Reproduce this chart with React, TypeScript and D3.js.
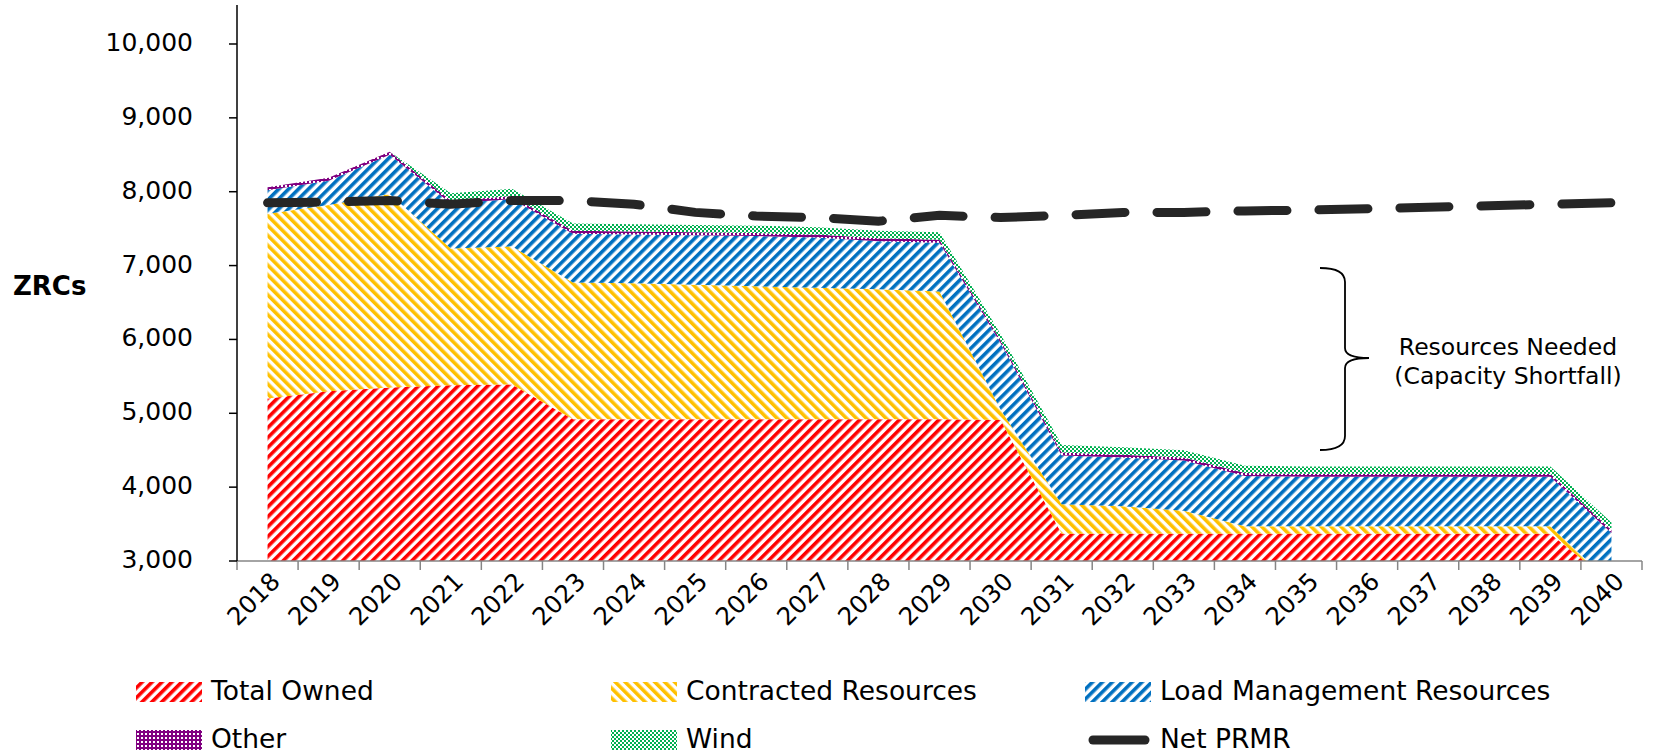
import React from 'react';
import * as d3 from 'd3';

const years = ['2018','2019','2020','2021','2022','2023','2024','2025','2026','2027','2028','2029','2030','2031','2032','2033','2034','2035','2036','2037','2038','2039','2040'];
const totalOwned = [5200,5300,5350,5380,5390,4920,4920,4920,4920,4920,4920,4920,4910,3370,3370,3370,3370,3370,3370,3370,3370,3370,2700];
const contracted = [2500,2520,2620,1850,1870,1850,1840,1820,1800,1780,1760,1730,140,400,370,310,100,100,100,100,100,100,0];
const loadManagement = [320,330,530,610,640,660,660,670,680,680,650,660,900,660,660,680,680,670,670,670,670,670,680];
const other = [40,40,40,40,40,40,40,40,40,40,40,40,40,40,40,40,40,40,40,40,40,40,40];
const wind = [0,0,0,100,100,100,100,100,100,100,100,100,80,100,100,100,100,100,100,100,100,100,100];
const netPRMR = [7850,7860,7880,7830,7880,7880,7830,7720,7670,7650,7600,7680,7650,7680,7720,7720,7740,7750,7770,7790,7810,7830,7850];
const yTicks = [3000,4000,5000,6000,7000,8000,9000,10000];

const seriesKeys = ['owned','contracted','load','other','wind'];
const seriesNames = ['Total Owned','Contracted Resources','Load Management Resources','Other','Wind'];
const patternIds = ['pOwned','pContracted','pLoad','pOther','pWind'];

const W = 1680, H = 753;
const left = 237, right = 1642, top = 5, bottom = 561;
const FONT = '"DejaVu Sans", Verdana, sans-serif';

export default function App() {
  const x = d3.scalePoint<string>().domain(years).range([left, right]).padding(0.5);
  const y = d3.scaleLinear().domain([3000, 10528]).range([bottom, top]);
  const step = x.step();

  const rows = years.map((yr, i) => ({
    year: yr,
    owned: totalOwned[i],
    contracted: contracted[i],
    load: loadManagement[i],
    other: other[i],
    wind: wind[i],
  }));
  const stacked = d3.stack<any>().keys(seriesKeys)(rows);
  const area = d3.area<any>()
    .x((d) => x(d.data.year) as number)
    .y0((d) => y(d[0]))
    .y1((d) => y(d[1]));
  const line = d3.line<number>()
    .x((_, i) => x(years[i]) as number)
    .y((d) => y(d));

  const boundaries = d3.range(years.length + 1).map((i) => left + i * step);

  const bx0 = 1320, bxm = 1345, bxt = 1369, bTop = 268, bBot = 450, bMid = 358;
  const brace = `M${bx0},${bTop} Q${bxm},${bTop} ${bxm},${bTop + 14} L${bxm},${bMid - 10} Q${bxm},${bMid} ${bxt},${bMid} Q${bxm},${bMid} ${bxm},${bMid + 10} L${bxm},${bBot - 14} Q${bxm},${bBot} ${bx0},${bBot}`;

  const legendItems = [
    { idx: 0, col: 0, row: 0 },
    { idx: 1, col: 1, row: 0 },
    { idx: 2, col: 2, row: 0 },
    { idx: 3, col: 0, row: 1 },
    { idx: 4, col: 1, row: 1 },
  ];
  const colX = [136, 611, 1085];
  const rowY = [692, 740];

  return (
    <svg width={W} height={H} style={{ position: 'absolute', left: 0, top: 0, background: '#fff' }} fontFamily={FONT}>
      <defs>
        <pattern id="pOwned" patternUnits="userSpaceOnUse" width="7" height="7" patternTransform="rotate(45)">
          <rect width="7" height="7" fill="#fff" />
          <rect width="3.6" height="7" fill="#FF0000" />
        </pattern>
        <pattern id="pContracted" patternUnits="userSpaceOnUse" width="7" height="7" patternTransform="rotate(-45)">
          <rect width="7" height="7" fill="#fff" />
          <rect width="3.6" height="7" fill="#FFC000" />
        </pattern>
        <pattern id="pLoad" patternUnits="userSpaceOnUse" width="7" height="7" patternTransform="rotate(45)">
          <rect width="7" height="7" fill="#fff" />
          <rect width="3.6" height="7" fill="#0070C0" />
        </pattern>
        <pattern id="pOther" patternUnits="userSpaceOnUse" width="4" height="4">
          <rect width="4" height="4" fill="#800080" />
          <rect x="1" y="1" width="2" height="2" fill="#fff" />
        </pattern>
        <pattern id="pWind" patternUnits="userSpaceOnUse" width="4" height="4">
          <rect width="4" height="4" fill="#fff" />
          <rect width="2" height="2" fill="#00B050" />
          <rect x="2" y="2" width="2" height="2" fill="#00B050" />
        </pattern>
        <clipPath id="plotClip">
          <rect x={left} y={top} width={right - left} height={bottom - top} />
        </clipPath>
      </defs>

      <g clipPath="url(#plotClip)">
        {stacked.map((s, i) => (
          <path key={s.key} d={area(s as any) || ''} fill={`url(#${patternIds[i]})`} />
        ))}
        <path d={line(netPRMR) || ''} fill="none" stroke="#262626" strokeWidth={9} strokeLinecap="round" strokeDasharray="49 32" />
      </g>

      <line x1={left} x2={right} y1={bottom} y2={bottom} stroke="#868686" strokeWidth={1.5} />
      {boundaries.map((bx, i) => (
        <line key={i} x1={bx} x2={bx} y1={bottom} y2={bottom + 9} stroke="#868686" strokeWidth={1.5} />
      ))}
      {years.map((yr) => (
        <text key={yr} transform={`translate(${(x(yr) as number) + 9},${bottom + 17}) rotate(-45)`} textAnchor="end" dominantBaseline="middle" fontSize={24.5} fill="#000">
          {yr}
        </text>
      ))}

      <line x1={left} x2={left} y1={top} y2={bottom} stroke="#000" strokeWidth={1.5} />
      {yTicks.map((t) => (
        <g key={t}>
          <line x1={left - 8} x2={left} y1={y(t)} y2={y(t)} stroke="#000" strokeWidth={1.5} />
          <text x={193} y={y(t)} textAnchor="end" dominantBaseline="middle" fontSize={25} fill="#000">
            {d3.format(',')(t)}
          </text>
        </g>
      ))}
      <text x={13} y={287} dominantBaseline="middle" fontSize={26} fontWeight="bold" fill="#000">ZRCs</text>

      <path d={brace} fill="none" stroke="#000" strokeWidth={1.8} />
      <text x={1508} y={348} textAnchor="middle" dominantBaseline="middle" fontSize={23.5} fill="#000">Resources Needed</text>
      <text x={1508} y={377} textAnchor="middle" dominantBaseline="middle" fontSize={23.5} fill="#000">(Capacity Shortfall)</text>

      {legendItems.map((it) => (
        <g key={it.idx}>
          <rect x={colX[it.col]} y={rowY[it.row] - 10} width={66} height={20} fill={`url(#${patternIds[it.idx]})`} />
          <text x={colX[it.col] + 75} y={rowY[it.row]} dominantBaseline="middle" fontSize={26.5} fill="#000">
            {seriesNames[it.idx]}
          </text>
        </g>
      ))}
      <line x1={colX[2] + 8} x2={colX[2] + 60} y1={rowY[1]} y2={rowY[1]} stroke="#262626" strokeWidth={9} strokeLinecap="round" />
      <text x={colX[2] + 75} y={rowY[1]} dominantBaseline="middle" fontSize={26.5} fill="#000">Net PRMR</text>
    </svg>
  );
}
